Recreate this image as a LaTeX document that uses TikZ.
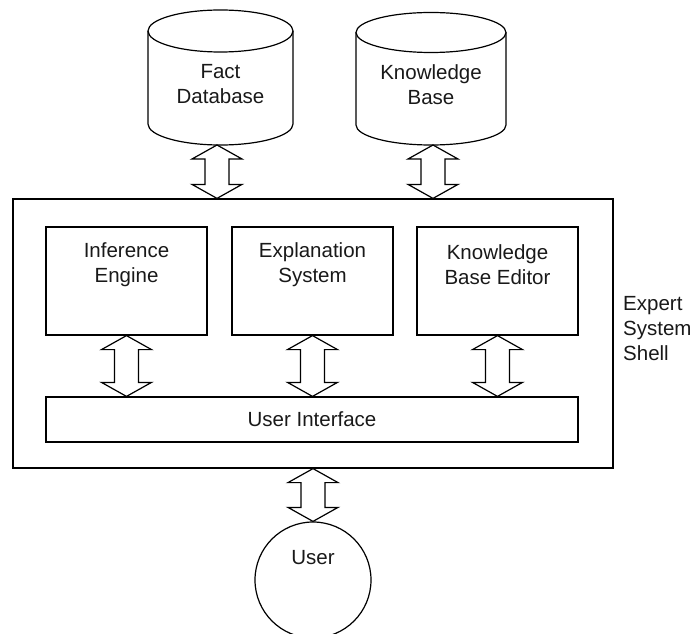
\documentclass[tikz,border=0pt]{standalone}
\usepackage{fontspec}
\setmainfont{Liberation Sans}
\usetikzlibrary{calc}
\tikzset{
  every node/.style={font=\fontsize{20.5}{25}\selectfont, text=black!90},
  box/.style={draw, line width=1.2pt, inner sep=0pt},
  lbl/.style={align=center, inner sep=0pt},
  fat/.style={draw, line width=1.2pt, fill=white, line join=miter},
  cylline/.style={draw, line width=1.2pt},
}
% #1 top tip, #2 bottom tip (vertically aligned)
\newcommand\dblarrow[2]{%
  \draw[fat] (#1) -- ($(#1)+(-25pt,-14pt)$) -- ($(#1)+(-12pt,-14pt)$)
    -- ($(#2)+(-12pt,14pt)$) -- ($(#2)+(-25pt,14pt)$) -- (#2)
    -- ($(#2)+(25pt,14pt)$) -- ($(#2)+(12pt,14pt)$)
    -- ($(#1)+(12pt,-14pt)$) -- ($(#1)+(25pt,-14pt)$) -- cycle;}
% #1 cx, #2 top ellipse cy, #3 bottom ellipse cy, #4 rx, #5 ry
\newcommand\cylshape[5]{%
  \draw[cylline] (#1-#4,#2) -- (#1-#4,#3)
    arc[start angle=180, end angle=360, x radius=#4pt, y radius=#5pt]
    -- (#1+#4,#2);
  \draw[cylline] (#1,#2) ellipse[x radius=#4pt, y radius=#5pt];}
\begin{document}
\begin{tikzpicture}[x=1pt, y=1pt]
\clip (0,0) rectangle (695,633);
\useasboundingbox (0,0) rectangle (695,633);

% databases
\cylshape{220.5}{602}{509}{72.5}{21}
\cylshape{431}{600.5}{508}{75}{20}
\node[lbl] (fact) at (220.5,548.5) {Fact\\Database};
\node[lbl] (kb) at (431,548.5) {Knowledge\\Base};
\coordinate (factbot) at (217,488);
\coordinate (kbbot) at (433,488);

% shell
\node[box, minimum width=600pt, minimum height=269pt] (shell) at (313,299.5) {};
\node[lbl, align=left, anchor=west] (shelltxt) at (623,304) {Expert\\System\\Shell};

% inner boxes
\node[box, minimum width=161pt, minimum height=108pt] (ie) at (126.5,352) {};
\node[box, minimum width=161pt, minimum height=108pt] (es) at (312.5,352) {};
\node[box, minimum width=161pt, minimum height=108pt] (kbe) at (497.5,352) {};
\node[lbl] (ietxt) at ($(ie.north)+(0,-38)$) {Inference\\Engine};
\node[lbl] (estxt) at ($(es.north)+(0,-38)$) {Explanation\\System};
\node[lbl] (kbetxt) at ($(kbe.north)+(0,-38)$) {Knowledge\\Base Editor};

% user interface
\node[box, minimum width=532pt, minimum height=45pt] (ui) at (312,213.5) {User Interface};

% user
\node[draw, circle, line width=1.2pt, minimum size=116pt, inner sep=0pt] (user) at (313,53) {};
\node[lbl] (usertxt) at (313,75) {User};

% arrows
\dblarrow{factbot}{factbot |- shell.north}
\dblarrow{kbbot}{kbbot |- shell.north}
\dblarrow{ie.south}{ie.south |- ui.north}
\dblarrow{es.south}{es.south |- ui.north}
\dblarrow{kbe.south}{kbe.south |- ui.north}
\dblarrow{shell.south -| user.north}{user.north}
\end{tikzpicture}
\end{document}
